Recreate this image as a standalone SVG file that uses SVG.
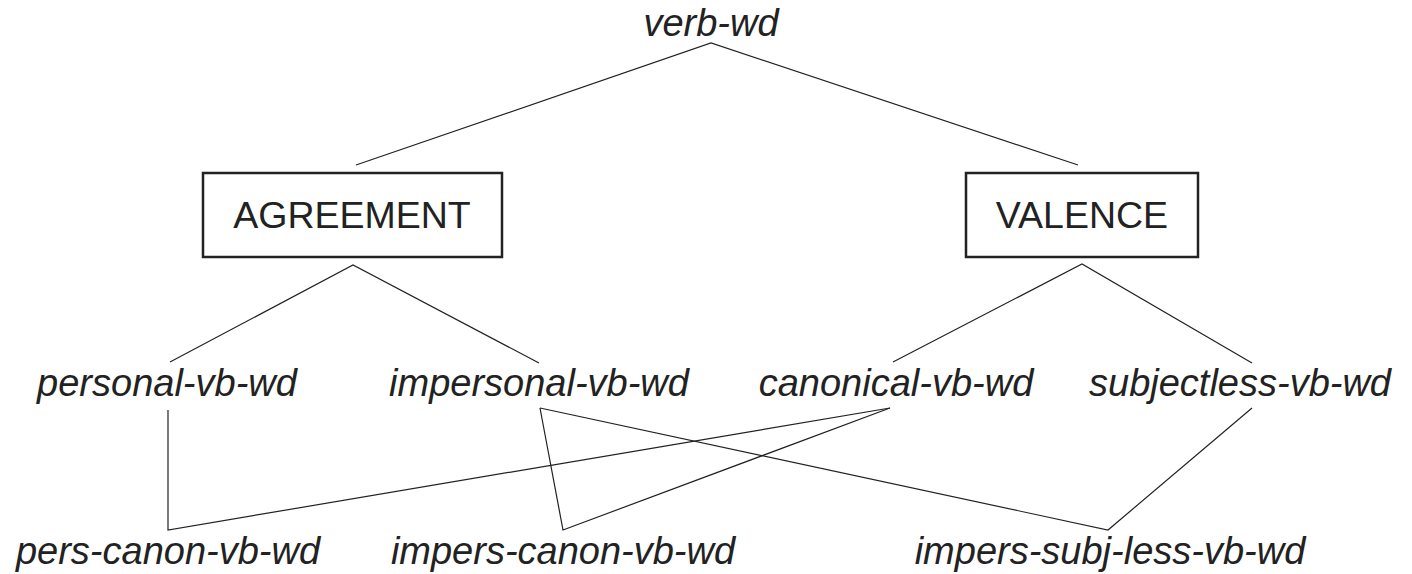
<svg xmlns="http://www.w3.org/2000/svg" width="1412" height="574" viewBox="0 0 1412 574">
  <style>
    .type { font-family: "Liberation Sans", Arial, sans-serif; font-size: 38px; font-style: italic; fill: #222; text-anchor: middle; }
    .dim { font-family: "Liberation Sans", Arial, sans-serif; font-size: 37.5px; fill: #222; text-anchor: middle; }
    .box { fill: #fff; stroke: #222; stroke-width: 2.5; }
    .edge { stroke: #222; stroke-width: 1.2; fill: none; }
  </style>
  <rect width="1412" height="574" fill="#fff"/>

  <g id="connectors">
    <polyline class="edge" points="356,165 711,43 1078,165"/>
    <polyline class="edge" points="170,362 353,265 539,363"/>
    <polyline class="edge" points="893,362 1082,264 1252,363"/>
    <polyline class="edge" points="168,410 168,530 890,408"/>
    <polyline class="edge" points="540,408 563,530 890,408"/>
    <polyline class="edge" points="540,408 1108,530 1252,408"/>
  </g>

  <g id="verb-wd">
    <text class="type" x="711" y="36">verb-wd</text>
  </g>

  <g id="agreement">
    <rect class="box" x="203" y="173" width="299" height="84"/>
    <text class="dim" x="352" y="228">AGREEMENT</text>
  </g>

  <g id="valence">
    <rect class="box" x="966" y="173" width="232" height="84"/>
    <text class="dim" x="1082" y="228">VALENCE</text>
  </g>

  <g id="personal-vb-wd">
    <text class="type" x="167" y="396">personal-vb-wd</text>
  </g>
  <g id="impersonal-vb-wd">
    <text class="type" x="539" y="396">impersonal-vb-wd</text>
  </g>
  <g id="canonical-vb-wd">
    <text class="type" x="896" y="396">canonical-vb-wd</text>
  </g>
  <g id="subjectless-vb-wd">
    <text class="type" x="1240" y="396">subjectless-vb-wd</text>
  </g>

  <g id="pers-canon-vb-wd">
    <text class="type" x="168" y="564">pers-canon-vb-wd</text>
  </g>
  <g id="impers-canon-vb-wd">
    <text class="type" x="563" y="564">impers-canon-vb-wd</text>
  </g>
  <g id="impers-subj-less-vb-wd">
    <text class="type" x="1110" y="564">impers-subj-less-vb-wd</text>
  </g>
</svg>
